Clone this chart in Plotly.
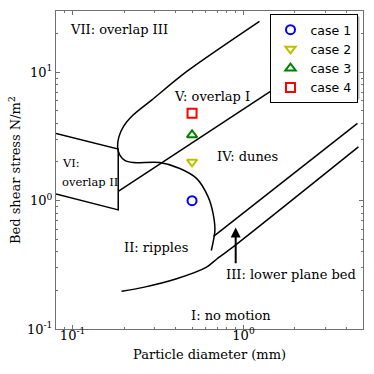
#dependancies
import numpy as np
import plotly.graph_objects as go

# regime boundary curves (particle diameter mm, bed shear stress N/m2)
overlap2_x = [0.08, 0.185, 0.185, 0.08]
overlap2_y = [3.34, 2.52, 0.847, 1.126]

ripple_x = [1.24, 0.464, 0.29, 0.226, 0.198, 0.1866, 0.1834, 0.189, 0.202, 0.226, 0.324, 0.424, 0.531, 0.621, 0.664, 0.68, 0.648]
ripple_y = [24.9, 10.1, 6.07, 4.64, 3.76, 3.14, 2.62, 2.26, 2.06, 1.98, 1.98, 1.78, 1.49, 1.07, 0.791, 0.586, 0.409]

dunes_x = [0.185, 2.1]
dunes_y = [1.18, 9.9]

upper_plane_x = [0.668, 4.64]
upper_plane_y = [0.526, 4.0]

motion_x = [0.1934, 0.259, 0.406, 0.608, 0.698, 0.874, 4.70]
motion_y = [0.197, 0.211, 0.246, 0.303, 0.351, 0.438, 2.62]

# measured cases
case_names = ["case 1", "case 2", "case 3", "case 4"]
case_x = [0.5, 0.5, 0.5, 0.5]
case_y = [1.0, 2.0, 3.25, 4.8]
case_symbols = ["circle-open", "triangle-down-open", "triangle-up-open", "square-open"]
case_colors = ["#0000ff", "#bfbf00", "#008000", "#ff0000"]

# region labels
label_text = ["VII: overlap III", "V: overlap I", "IV: dunes", "II: ripples", "III: lower plane bed", "I: no motion"]
label_x = [0.187, 0.655, 1.057, 0.307, 1.90, 0.841]
label_y = [21.7, 6.45, 2.19, 0.434, 0.267, 0.127]

tick_x = [0.1, 1]
tick_x_text = ["10<sup>-1</sup>", "10<sup>0</sup>"]
tick_y = [0.1, 1, 10]
tick_y_text = ["10<sup>-1</sup>", "10<sup>0</sup>", "10<sup>1</sup>"]

serif = "DejaVu Serif"
textFont = dict(family=serif, size=13, color="black")

fig = go.Figure()

lineStyle = dict(color="black", width=1.5)
# straight pieces
for xs, ys in [(overlap2_x, overlap2_y), (dunes_x, dunes_y), (upper_plane_x, upper_plane_y)]:
    fig.add_trace(go.Scatter(x=xs, y=ys, mode="lines", line=lineStyle,
                             showlegend=False, hoverinfo="skip"))
# curved pieces
for xs, ys in [(ripple_x, ripple_y), (motion_x, motion_y)]:
    fig.add_trace(go.Scatter(x=xs, y=ys, mode="lines", line=dict(lineStyle, shape="spline", smoothing=0.8),
                             showlegend=False, hoverinfo="skip"))

for i in range(len(case_names)):
    fig.add_trace(go.Scatter(
        x=[case_x[i]], y=[case_y[i]], mode="markers", name=case_names[i],
        legendgroup=case_names[i],
        marker=dict(symbol=case_symbols[i], size=9, color=case_colors[i],
                    line=dict(color=case_colors[i], width=2))))

annots = []
for t, x, y in zip(label_text, label_x, label_y):
    annots.append(dict(x=np.log10(x), y=np.log10(y), xref="x", yref="y", text=t,
                       showarrow=False, font=textFont))
# VI label sits at left edge, a bit smaller so it fits inside the box
smallFont = dict(family=serif, size=11.5, color="black")
annots.append(dict(x=np.log10(0.0843), y=np.log10(1.95), xref="x", yref="y", text="VI:",
                   xanchor="left", showarrow=False, font=smallFont))
annots.append(dict(x=np.log10(0.0843), y=np.log10(1.40), xref="x", yref="y", text="overlap II",
                   xanchor="left", showarrow=False, font=smallFont))
# arrow to lower plane bed
annots.append(dict(x=np.log10(0.9), y=np.log10(0.618), ax=np.log10(0.9), ay=np.log10(0.316),
                   xref="x", yref="y", axref="x", ayref="y", text="", showarrow=True,
                   arrowhead=2, arrowsize=1, arrowwidth=2, arrowcolor="black"))

# axis titles, placed by pixel
plotL, plotR, plotT, plotB = 56, 363, 11, 329
pw, ph = plotR - plotL, plotB - plotT
annots.append(dict(x=0.5, y=(plotB - 354) / ph, xref="paper", yref="paper",
                   text="Particle diameter (mm)", xanchor="center", yanchor="middle",
                   showarrow=False, font=textFont))
annots.append(dict(x=(15 - plotL) / pw, y=0.5, xref="paper", yref="paper",
                   text="Bed shear stress N/m<sup>2</sup>", xanchor="center", yanchor="middle",
                   textangle=-90, showarrow=False, font=textFont))

minor_x = [v * m for v in [0.01, 0.1, 1] for m in range(2, 10) if 0.08 <= v * m <= 5]
minor_y = [v * m for v in [0.1, 1, 10] for m in range(2, 10) if v * m <= 30]

axisStyle = dict(type="log", showgrid=False, zeroline=False, showline=True, automargin=False,
                 linecolor="#707070", linewidth=1, mirror="allticks",
                 ticks="inside", ticklen=4, tickcolor="#707070", tickmode="array",
                 tickfont=dict(family=serif, size=13, color="black"))

# legend drop shadow (legend box is drawn on top of it)
legTop = 14
shadow = dict(type="rect", xref="paper", yref="paper", layer="above",
              x0=(270.5 - plotL) / pw, x1=(359.5 - plotL) / pw,
              y0=(plotB - 99.5) / ph, y1=(plotB - legTop - 2.5) / ph,
              fillcolor="#b8b8b8", line=dict(width=0))

fig.update_layout(
    width=374, height=374,
    margin=dict(l=plotL, r=374 - plotR, t=plotT, b=374 - plotB, autoexpand=False),
    plot_bgcolor="white", paper_bgcolor="white",
    xaxis=dict(axisStyle, range=[np.log10(0.08), np.log10(5)], tickvals=tick_x, ticktext=tick_x_text,
               ticklabelstandoff=-6,
               minor=dict(ticks="inside", ticklen=2, tickcolor="#707070", tickvals=minor_x)),
    yaxis=dict(axisStyle, range=[-1, np.log10(30)], tickvals=tick_y, ticktext=tick_y_text,
               minor=dict(ticks="inside", ticklen=2, tickcolor="#707070", tickvals=minor_y)),
    legend=dict(x=(357.5 - plotL) / pw, y=(plotB - legTop) / ph, xanchor="right", yanchor="top",
                bgcolor="white", bordercolor="black", borderwidth=1, tracegroupgap=0,
                font=dict(family="DejaVu Sans", size=12.5, color="black")),
    shapes=[shadow],
    annotations=annots,
)

# page body has a default 8px margin, drop it so the figure sits at 0,0
fig.write_html("out.html", config={"displayModeBar": False},
               post_script="document.body.style.margin='0px';")
